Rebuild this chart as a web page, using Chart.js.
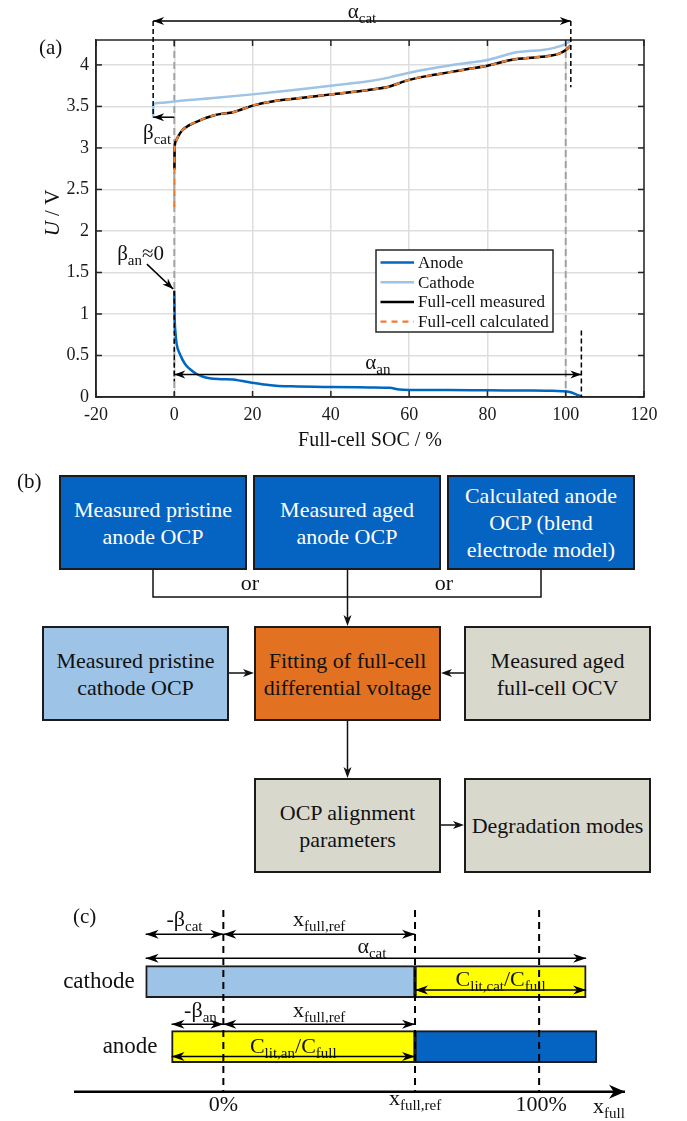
<!DOCTYPE html>
<html>
<head>
<meta charset="utf-8">
<title>OCP alignment</title>
<script src="https://cdn.jsdelivr.net/npm/chart.js@4.4.1/dist/chart.umd.min.js"></script>
<style>
  html, body { margin: 0; padding: 0; background: #fff; }
  body { position: relative; width: 687px; height: 1121px; overflow: hidden;
         font-family: "Liberation Serif", "Times New Roman", serif; }
  canvas { position: absolute; left: 0; }
  #chartA { top: 0; }
  #chartC { top: 880px; }
  .box { position: absolute; box-sizing: border-box; border: 2px solid #1b1b1b; height: 95px; width: 188px;
         display: flex; align-items: center; justify-content: center; text-align: center;
         font-size: 22px; line-height: 27px; color: #111; }
  .dark { background: #0563c1; color: #fff; }
  .light { background: #9dc3e6; }
  .orange { background: #e27122; }
  .beige { background: #d9d8cd; }
  #links { position: absolute; left: 0; top: 0; pointer-events: none; }
  #links text { font-family: "Liberation Serif", "Times New Roman", serif; font-size: 22px; fill: #111; }
</style>
</head>
<body>
<canvas id="chartA" width="687" height="455"></canvas>

<!-- (b) flow chart -->
<div class="box dark" style="left:59px; top:475px;">Measured pristine<br>anode OCP</div>
<div class="box dark" style="left:253px; top:475px;">Measured aged<br>anode OCP</div>
<div class="box dark" style="left:447px; top:475px;">Calculated anode<br>OCP (blend<br>electrode model)</div>

<div class="box light" style="left:42px; top:626px; width:187px;">Measured pristine<br>cathode OCP</div>
<div class="box orange" style="left:254px; top:626px; width:187px;">Fitting of full-cell<br>differential voltage</div>
<div class="box beige" style="left:464px; top:626px; width:187px;">Measured aged<br>full-cell OCV</div>

<div class="box beige" style="left:254px; top:778px; width:187px;">OCP alignment<br>parameters</div>
<div class="box beige" style="left:464px; top:778px; width:187px;">Degradation modes</div>

<svg id="links" width="687" height="880">
  <text x="17" y="488" style="font-size:21px">(b)</text>
  <g stroke="#111" stroke-width="1.5" fill="none">
    <path d="M153 570 V597 H541 V570"/>
    <line x1="347.5" y1="570" x2="347.5" y2="619"/>
    <line x1="229" y1="673" x2="247" y2="673"/>
    <line x1="464" y1="673" x2="448" y2="673"/>
    <line x1="347.5" y1="721" x2="347.5" y2="771"/>
    <line x1="441" y1="825" x2="457" y2="825"/>
  </g>
  <g fill="#111">
    <polygon points="347.5,626 343.5,615 347.5,618 351.5,615"/>
    <polygon points="254,673 243,669 246,673 243,677"/>
    <polygon points="441,673 452,669 449,673 452,677"/>
    <polygon points="347.5,778 343.5,767 347.5,770 351.5,767"/>
    <polygon points="464,825 453,821 456,825 453,829"/>
  </g>
  <text x="250" y="590" text-anchor="middle">or</text>
  <text x="444" y="590" text-anchor="middle">or</text>
</svg>

<canvas id="chartC" width="687" height="241"></canvas>

<script>
// ---------- panel (a) data ----------
const xTicks = [-20, 0, 20, 40, 60, 80, 100, 120];
const yTicks = [0, 0.5, 1, 1.5, 2, 2.5, 3, 3.5, 4];

const socAnode = [0, 0.1, 0.3, 0.6, 1.4, 2.7, 3.9, 5.6, 7, 9, 12, 15, 17, 19.5, 23, 26, 30, 40, 50, 55, 57.5, 60, 70, 80, 90, 96, 99, 101, 102.5, 104];
const uAnode = [1.28, 0.95, 0.78, 0.64, 0.52, 0.40, 0.34, 0.28, 0.25, 0.225, 0.215, 0.21, 0.195, 0.175, 0.15, 0.135, 0.128, 0.12, 0.115, 0.11, 0.09, 0.085, 0.083, 0.08, 0.078, 0.075, 0.07, 0.06, 0.035, 0.005];

const socCathode = [-5.4, -5.35, -3, 0, 10, 20, 30, 40, 50, 55, 60, 65, 70, 75, 80, 84, 87, 90, 94, 97, 99.5, 101.3];
const uCathode = [3.37, 3.53, 3.545, 3.56, 3.6, 3.645, 3.695, 3.75, 3.805, 3.85, 3.905, 3.95, 3.99, 4.025, 4.06, 4.11, 4.15, 4.165, 4.18, 4.205, 4.24, 4.29];

const socFull = [0.03, 0.1, 0.4, 1, 2, 3, 4.5, 6, 8, 10, 12, 15, 17, 20, 25, 30, 40, 50, 55, 58, 60, 65, 70, 75, 80, 85, 88, 92, 96, 98.5, 100, 101.3];
const uFullMeasured = [2.74, 3.0, 3.08, 3.14, 3.21, 3.25, 3.29, 3.32, 3.36, 3.39, 3.41, 3.43, 3.46, 3.51, 3.56, 3.59, 3.645, 3.70, 3.74, 3.79, 3.82, 3.87, 3.91, 3.95, 3.99, 4.05, 4.075, 4.09, 4.11, 4.14, 4.18, 4.235];

const socFullCalc = [0, 0.03, 0.1, 0.4, 1, 2, 3, 4.5, 6, 8, 10, 12, 15, 17, 20, 25, 30, 40, 50, 55, 58, 60, 65, 70, 75, 80, 85, 88, 92, 96, 98.5, 100, 101.3];
const uFullCalc = [2.29, 2.74, 3.0, 3.08, 3.14, 3.21, 3.25, 3.29, 3.32, 3.36, 3.39, 3.41, 3.43, 3.46, 3.51, 3.56, 3.59, 3.645, 3.70, 3.74, 3.79, 3.82, 3.87, 3.91, 3.95, 3.99, 4.05, 4.075, 4.09, 4.11, 4.14, 4.18, 4.235];

// alignment markers (SOC %, voltage V)
const refSoc = [0, 100];                     // grey dashed lines
const markerLines = [[-5.4, 4.53, 3.37], [101.3, 4.53, 3.73], [0, 1.28, 0.19], [104, 0.8, 0]];
const alphaCat = [-5.4, 101.3, 4.53];
const betaCat = [0, -5.4, 3.37];
const alphaAn = [0, 104, 0.27];
const betaAnPointer = [-7, 1.6, -0.3, 1.3];

// ---------- panel (c) data ----------
const rowsC = ['cathode', 'anode'];
const startC = [-24.6, -16.4];   // -beta
const xFullRef = 60.7;
const endC = [114.9, 118.3];
const markC = [0, xFullRef, 100];

const FONT = '"Liberation Serif", "Times New Roman", serif';
Chart.defaults.font.family = FONT;
const toXY = (xs, ys) => xs.map((v, i) => ({ x: v, y: ys[i] }));

function seg(ctx, x1, y1, x2, y2) {
  ctx.beginPath(); ctx.moveTo(x1, y1); ctx.lineTo(x2, y2); ctx.stroke();
}
function head(ctx, x1, y1, x2, y2, len, half) {
  const ang = Math.atan2(y2 - y1, x2 - x1);
  ctx.save();
  ctx.translate(x2, y2); ctx.rotate(ang);
  ctx.beginPath();
  ctx.moveTo(0, 0); ctx.lineTo(-len, -half); ctx.lineTo(-len * 0.7, 0); ctx.lineTo(-len, half);
  ctx.closePath(); ctx.fill();
  ctx.restore();
}
function arrow(ctx, x1, y1, x2, y2, both, len, half) {
  seg(ctx, x1, y1, x2, y2);
  head(ctx, x1, y1, x2, y2, len, half);
  if (both) head(ctx, x2, y2, x1, y1, len, half);
}
// runs: [text, isSub, isItalic]
function rich(ctx, runs, x, y, size, align) {
  const sub = Math.round(size * 0.7);
  const fontOf = r => (r[2] ? 'italic ' : '') + (r[1] ? sub : size) + 'px ' + FONT;
  let w = 0;
  runs.forEach(r => { ctx.font = fontOf(r); w += ctx.measureText(r[0]).width; });
  let cx = align === 'center' ? x - w / 2 : align === 'right' ? x - w : x;
  ctx.textAlign = 'left'; ctx.textBaseline = 'alphabetic';
  runs.forEach(r => {
    ctx.font = fontOf(r);
    ctx.fillText(r[0], cx, r[1] ? y + size * 0.24 : y);
    cx += ctx.measureText(r[0]).width;
  });
}

// 그림 (a) 주석: 점선, 화살표, 범례, 축 제목
const panelA = {
  id: 'panelA',
  beforeDatasetsDraw(chart) {
    const { ctx, chartArea: a, scales: { x } } = chart;
    ctx.save();
    ctx.strokeStyle = '#a3a3a3'; ctx.lineWidth = 2; ctx.setLineDash([7, 4]);
    refSoc.forEach(v => seg(ctx, x.getPixelForValue(v), a.top, x.getPixelForValue(v), a.bottom));
    ctx.restore();
  },
  afterDatasetsDraw(chart) {
    const { ctx, chartArea: a, scales: { x, y } } = chart;
    const X = v => x.getPixelForValue(v), Y = v => y.getPixelForValue(v);
    ctx.save();
    // axes box + inward ticks
    ctx.strokeStyle = '#262626'; ctx.lineWidth = 1.5;
    ctx.strokeRect(a.left, a.top, a.right - a.left, a.bottom - a.top);
    xTicks.forEach(v => { seg(ctx, X(v), a.bottom, X(v), a.bottom - 6); seg(ctx, X(v), a.top, X(v), a.top + 6); });
    yTicks.forEach(v => { seg(ctx, a.left, Y(v), a.left + 6, Y(v)); seg(ctx, a.right, Y(v), a.right - 6, Y(v)); });

    // black dashed markers
    ctx.strokeStyle = '#000'; ctx.lineWidth = 1.5; ctx.setLineDash([5, 3]);
    markerLines.forEach(m => seg(ctx, X(m[0]), Y(m[1]), X(m[0]), Y(m[2])));
    ctx.setLineDash([]);

    // arrows
    ctx.fillStyle = '#000'; ctx.lineWidth = 1.5;
    arrow(ctx, X(alphaCat[0]), Y(alphaCat[2]), X(alphaCat[1]), Y(alphaCat[2]), true, 11, 4);
    arrow(ctx, X(betaCat[0]), Y(betaCat[2]), X(betaCat[1]), Y(betaCat[2]), false, 11, 4);
    arrow(ctx, X(alphaAn[0]), Y(alphaAn[2]), X(alphaAn[1]), Y(alphaAn[2]), true, 11, 4);
    arrow(ctx, X(betaAnPointer[0]), Y(betaAnPointer[1]), X(betaAnPointer[2]), Y(betaAnPointer[3]), false, 11, 4);

    // labels
    ctx.fillStyle = '#111';
    rich(ctx, [['α'], ['cat', 1]], X((alphaCat[0] + alphaCat[1]) / 2), Y(alphaCat[2]) - 3, 21, 'center');
    rich(ctx, [['β'], ['cat', 1]], X(-4.4), Y(betaCat[2]) + 22, 21, 'center');
    rich(ctx, [['β'], ['an', 1], ['≈0']], X(-8.6), Y(1.65), 21, 'center');
    rich(ctx, [['α'], ['an', 1]], X(52), Y(alphaAn[2]) - 6, 21, 'center');

    rich(ctx, [['(a)']], 39, 54, 21, 'left');
    rich(ctx, [['Full-cell SOC / %']], (a.left + a.right) / 2, 446, 20, 'center');
    ctx.save();
    ctx.translate(59, 213); ctx.rotate(-Math.PI / 2);
    rich(ctx, [['U', 0, 1], [' / V']], 0, 0, 21, 'center');
    ctx.restore();

    // legend
    const lg = { x: 376, y: 250, w: 177, h: 82 };
    ctx.fillStyle = '#fff'; ctx.fillRect(lg.x, lg.y, lg.w, lg.h);
    ctx.strokeStyle = '#262626'; ctx.lineWidth = 1.5; ctx.strokeRect(lg.x, lg.y, lg.w, lg.h);
    chart.data.datasets.forEach((ds, i) => {
      const yy = lg.y + 12.5 + i * 19.7;
      ctx.strokeStyle = ds.borderColor; ctx.lineWidth = ds.borderWidth;
      ctx.setLineDash(ds.borderDash || []);
      seg(ctx, lg.x + 4.5, yy, lg.x + 38, yy);
      ctx.setLineDash([]);
      ctx.fillStyle = '#111'; ctx.font = '17px ' + FONT;
      ctx.textAlign = 'left'; ctx.textBaseline = 'middle';
      ctx.fillText(ds.label, lg.x + 42, yy + 1);
    });
    ctx.restore();
  }
};

new Chart(document.getElementById('chartA'), {
  type: 'line',
  data: {
    datasets: [
      { label: 'Anode', data: toXY(socAnode, uAnode), borderColor: '#0067c0', borderWidth: 2.5, order: 3 },
      { label: 'Cathode', data: toXY(socCathode, uCathode), borderColor: '#9dc3e6', borderWidth: 2.5, order: 2 },
      { label: 'Full-cell measured', data: toXY(socFull, uFullMeasured), borderColor: '#000000', borderWidth: 2.5, order: 1 },
      { label: 'Full-cell calculated', data: toXY(socFullCalc, uFullCalc), borderColor: '#ed7d31', borderWidth: 2.2, borderDash: [6, 5], order: 0 }
    ]
  },
  options: {
    responsive: false,
    animation: false,
    layout: { padding: { left: 0, right: 43, top: 40, bottom: 0 } },
    elements: { point: { radius: 0 }, line: { cubicInterpolationMode: 'monotone', fill: false } },
    plugins: { legend: { display: false }, tooltip: { enabled: false } },
    scales: {
      x: {
        type: 'linear', min: -20, max: 120,
        afterBuildTicks: s => { s.ticks = xTicks.map(v => ({ value: v })); },
        afterFit: s => { s.height = 58; },
        grid: { color: '#dedede', lineWidth: 1.5, drawTicks: false },
        border: { color: '#262626', width: 1.5 },
        ticks: { color: '#1a1a1a', font: { family: FONT, size: 18 }, padding: 7, maxRotation: 0, autoSkip: false,
                 callback: v => String(v) }
      },
      y: {
        type: 'linear', min: 0, max: 4.3,
        afterBuildTicks: s => { s.ticks = yTicks.map(v => ({ value: v })); },
        afterFit: s => { s.width = 96; },
        grid: { color: '#dedede', lineWidth: 1.5, drawTicks: false },
        border: { color: '#262626', width: 1.5 },
        ticks: { color: '#1a1a1a', font: { family: FONT, size: 18 }, padding: 7, autoSkip: false,
                 callback: v => String(v) }
      }
    }
  },
  plugins: [panelA]
});

// 그림 (c) 주석
const panelC = {
  id: 'panelC',
  afterDatasetsDraw(chart) {
    const { ctx, scales: { x, y } } = chart;
    const X = v => x.getPixelForValue(v);
    const yCat = y.getPixelForValue(0), yAn = y.getPixelForValue(1);
    const axisY = yAn + 45;
    ctx.save();
    // dashed reference lines
    ctx.strokeStyle = '#000'; ctx.lineWidth = 2; ctx.setLineDash([7, 5]);
    markC.forEach(v => seg(ctx, X(v), 30, X(v), axisY));
    ctx.setLineDash([]);

    // x_full axis
    ctx.fillStyle = '#000'; ctx.lineWidth = 2.5;
    arrow(ctx, X(x.min), axisY, X(x.max), axisY, false, 16, 7);

    ctx.lineWidth = 1.5;
    // cathode row
    const t1 = yCat - 47.4;
    arrow(ctx, X(startC[0]), t1, X(0), t1, true, 13, 4.5);
    arrow(ctx, X(0), t1, X(xFullRef), t1, true, 13, 4.5);
    const t2 = yCat - 23.4;
    arrow(ctx, X(startC[0]), t2, X(endC[0]), t2, true, 13, 4.5);
    const t3 = yCat + 8.3;
    arrow(ctx, X(xFullRef), t3, X(endC[0]), t3, true, 13, 4.5);
    // anode row
    const t4 = yAn - 22.4;
    arrow(ctx, X(startC[1]), t4, X(0), t4, true, 13, 4.5);
    arrow(ctx, X(0), t4, X(xFullRef), t4, true, 13, 4.5);
    const t5 = yAn + 9.8;
    arrow(ctx, X(startC[1]), t5, X(xFullRef), t5, true, 13, 4.5);

    ctx.fillStyle = '#111';
    rich(ctx, [['-β'], ['cat', 1]], X((startC[0] + 0) / 2), t1 - 8.3, 22, 'center');
    rich(ctx, [['x'], ['full,ref', 1]], X(xFullRef / 2), t1 - 8.3, 22, 'center');
    rich(ctx, [['α'], ['cat', 1]], X((startC[0] + endC[0]) / 2) + 6, t2 - 5.5, 22, 'center');
    rich(ctx, [['C'], ['lit,cat', 1], ['/C'], ['full', 1]], X((xFullRef + endC[0]) / 2), t3 - 4, 22, 'center');
    rich(ctx, [['-β'], ['an', 1]], X((startC[1] + 0) / 2) + 3, t4 - 7.3, 22, 'center');
    rich(ctx, [['x'], ['full,ref', 1]], X(xFullRef / 2), t4 - 7.3, 22, 'center');
    rich(ctx, [['C'], ['lit,an', 1], ['/C'], ['full', 1]], X((startC[1] + xFullRef) / 2), t5 - 3.5, 22, 'center');

    ctx.font = '23px ' + FONT; ctx.textAlign = 'right'; ctx.textBaseline = 'middle';
    ctx.fillText(rowsC[0], X(startC[0]) - 11, yCat);
    ctx.fillText(rowsC[1], X(startC[1]) - 14, yAn);

    rich(ctx, [['0%']], X(markC[0]), axisY + 19.5, 22, 'center');
    rich(ctx, [['x'], ['full,ref', 1]], X(markC[1]), axisY + 13.5, 22, 'center');
    rich(ctx, [['100%']], X(markC[2]) + 2, axisY + 19.5, 22, 'center');
    rich(ctx, [['x'], ['full', 1]], X(x.max) - 32, axisY + 21.5, 22, 'left');
    rich(ctx, [['(c)']], 73, 43, 21, 'left');
    ctx.restore();
  }
};

new Chart(document.getElementById('chartC'), {
  type: 'bar',
  data: {
    labels: rowsC,
    datasets: [
      { data: rowsC.map((r, i) => [startC[i], xFullRef]), backgroundColor: ['#9dc3e6', '#ffff00'], grouped: false },
      { data: rowsC.map((r, i) => [xFullRef, endC[i]]), backgroundColor: ['#ffff00', '#0563c1'], grouped: false }
    ]
  },
  options: {
    indexAxis: 'y',
    responsive: false,
    animation: false,
    layout: { padding: { left: 74, right: 62, top: 69.2, bottom: 41.8 } },
    datasets: { bar: { barThickness: 32, borderWidth: 2, borderColor: '#1b1b1b', borderSkipped: false } },
    plugins: { legend: { display: false }, tooltip: { enabled: false } },
    scales: {
      x: { type: 'linear', min: -47.3, max: 127.2, display: false },
      y: { display: false }
    }
  },
  plugins: [panelC]
});
</script>
</body>
</html>
